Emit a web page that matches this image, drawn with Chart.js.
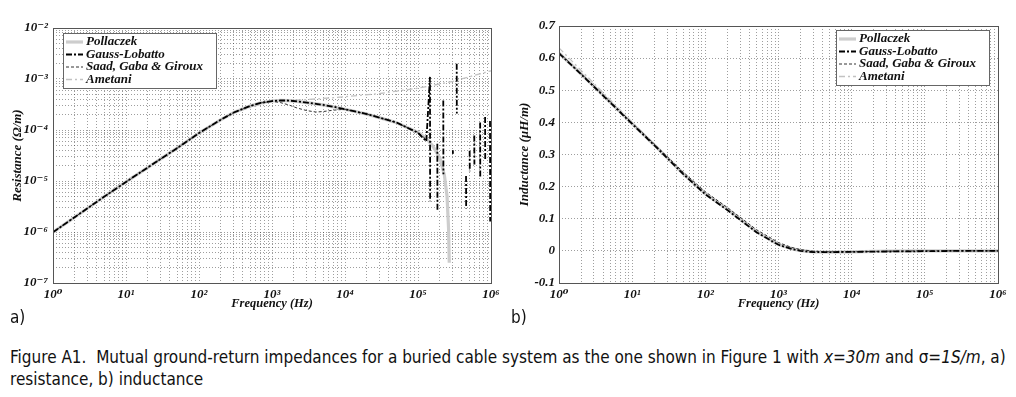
<!DOCTYPE html>
<html>
<head>
<meta charset="utf-8">
<script src="https://cdn.jsdelivr.net/npm/chart.js@4.4.1/dist/chart.umd.min.js"></script>
<style>
  body { margin: 0; background: #fff; width: 1016px; height: 397px; position: relative; overflow: hidden; }
  #wrapA { position: absolute; left: 0; top: 0; }
  #wrapB { position: absolute; left: 505px; top: 0; }
  .tag { position: absolute; top: 307px; font: 17px "DejaVu Sans Condensed", "Liberation Sans Narrow", sans-serif; color: #111; }
  #caption { position: absolute; left: 10px; top: 346px; width: 1006px; font: 17px/22px "DejaVu Sans Condensed", "Liberation Sans Narrow", sans-serif; color: #111; }
</style>
</head>
<body>
<div id="wrapA"><canvas id="resistance_chart" width="505" height="313"></canvas></div>
<div id="wrapB"><canvas id="inductance_chart" width="511" height="313"></canvas></div>
<div class="tag" style="left:10px">a)</div>
<div class="tag" style="left:511px">b)</div>
<div id="caption">Figure A1.&nbsp; Mutual ground-return impedances for a buried cable system as the one shown in Figure 1 with <i>x</i>=<i>30m</i> and σ=<i>1S/m</i>, a) resistance, b) inductance</div>
<script>
const series_names = ["Pollaczek", "Gauss-Lobatto", "Saad, Gaba & Giroux", "Ametani"];

// a) resistance (ohm/m)
const res_freq = [1, 2, 5, 10, 20, 50, 100, 200, 300, 500, 700, 1000, 1300, 1700, 2200, 3000, 4000, 5000, 7000, 10000, 20000, 50000, 100000, 130000];
const res_pollaczek = [9.9e-7, 1.97e-6, 4.9e-6, 9.6e-6, 1.85e-5, 4.4e-5, 8.7e-5, 1.6e-4, 2.2e-4, 2.95e-4, 3.4e-4, 3.7e-4, 3.8e-4, 3.78e-4, 3.65e-4, 3.45e-4, 3.25e-4, 3.1e-4, 2.85e-4, 2.55e-4, 2.05e-4, 1.4e-4, 9e-5, 6.8e-5];
const res_saad = [9.9e-7, 1.97e-6, 4.9e-6, 9.6e-6, 1.85e-5, 4.4e-5, 8.7e-5, 1.6e-4, 2.2e-4, 2.95e-4, 3.4e-4, 3.65e-4, 3.45e-4, 3.1e-4, 2.7e-4, 2.4e-4, 2.25e-4, 2.3e-4, 2.45e-4, 2.55e-4, 2.05e-4, 1.4e-4, 9e-5, 6.5e-5];
const res_gauss = [9.9e-7, 1.97e-6, 4.9e-6, 9.6e-6, 1.85e-5, 4.4e-5, 8.7e-5, 1.6e-4, 2.2e-4, 2.95e-4, 3.4e-4, 3.7e-4, 3.8e-4, 3.78e-4, 3.65e-4, 3.45e-4, 3.25e-4, 3.1e-4, 2.85e-4, 2.55e-4, 2.05e-4, 1.42e-4, 8.8e-5, 6e-5];
const res_pollaczek_tail_freq = [160000, 200000, 230000, 250000, 262000, 268000];
const res_pollaczek_tail = [4.8e-5, 2.8e-5, 1.3e-5, 5e-6, 1.2e-6, 2.5e-7];
const res_ametani_freq = [1, 10, 100, 300, 1000, 1700, 2200, 3000, 5000, 8500, 30000, 100000, 300000, 1000000];
const res_ametani = [9.9e-7, 9.6e-6, 8.7e-5, 2.2e-4, 3.7e-4, 3.8e-4, 3.85e-4, 3.95e-4, 4.15e-4, 4.4e-4, 5.2e-4, 6.6e-4, 9e-4, 1.45e-3];
// Gauss-Lobatto breaks up above ~1.4e5 Hz into vertical spikes
const res_spike_freq = [146000, 184000, 222000, 300000, 339000, 455000, 510000, 590000, 710000, 830000, 970000];
const res_spike_high = [1.1e-3, 5.4e-5, 3.8e-4, 4e-5, 2e-3, 1.26e-5, 3.9e-5, 7.8e-5, 1.4e-4, 1.8e-4, 1.5e-4];
const res_spike_low = [4e-6, 2.5e-6, 1.35e-5, 3.4e-5, 2.1e-4, 2.9e-6, 1.55e-5, 2.1e-5, 1.15e-5, 2.5e-5, 1.6e-6];

// b) inductance (uH/m)
const ind_freq = [1, 2, 5, 10, 20, 50, 100, 200, 500, 1000, 1500, 2000, 3000, 5000, 10000, 30000, 100000, 300000, 1000000];
const ind_pollaczek = [0.616, 0.551, 0.463, 0.396, 0.330, 0.240, 0.178, 0.130, 0.060, 0.020, 0.007, 0.001, -0.003, -0.004, -0.003, -0.001, 0, 0, 0];
const ind_gauss = [0.615, 0.550, 0.462, 0.395, 0.329, 0.239, 0.176, 0.127, 0.058, 0.019, 0.006, 0.000, -0.004, -0.004, -0.003, -0.002, -0.001, 0, 0];
const ind_saad = [0.617, 0.552, 0.465, 0.398, 0.333, 0.245, 0.184, 0.135, 0.066, 0.026, 0.011, 0.004, -0.001, -0.003, -0.003, -0.001, 0, 0, 0];
const ind_ametani = [0.632, 0.562, 0.470, 0.400, 0.332, 0.242, 0.180, 0.131, 0.061, 0.021, 0.008, 0.002, -0.002, -0.003, -0.002, -0.001, 0, 0, 0];

const pairs = (xs, ys) => xs.map((x, i) => ({ x: x, y: ys[i] }));

const gauss_points = pairs(res_freq, res_gauss);
res_spike_freq.forEach((f, i) => {
    gauss_points.push({ x: f, y: res_spike_high[i] });
    gauss_points.push({ x: f * 1.004, y: res_spike_low[i] });
    gauss_points.push({ x: f * 1.006, y: null });
});

const SUP = { "-": "\u207B", "0": "\u2070", "1": "\u00B9", "2": "\u00B2", "3": "\u00B3", "4": "\u2074", "5": "\u2075", "6": "\u2076", "7": "\u2077", "8": "\u2078", "9": "\u2079" };
function decade_label(value) {
    const e = Math.round(Math.log10(value));
    if (Math.abs(value - Math.pow(10, e)) > 1e-9 * value) return "";
    return "10" + String(e).split("").map(c => SUP[c]).join("");
}
function log_ticks(scale) {
    const lo = Math.round(Math.log10(scale.min));
    const hi = Math.round(Math.log10(scale.max));
    const t = [];
    for (let e = lo; e < hi; e++)
        for (let m = 1; m < 10; m++) t.push({ value: m * Math.pow(10, e) });
    t.push({ value: Math.pow(10, hi) });
    scale.ticks = t;
}

const tick_font = { family: "'Liberation Serif', 'DejaVu Serif', serif", size: 13, style: "italic", weight: "bold" };
const title_font = { family: "'Liberation Serif', 'DejaVu Serif', serif", size: 13, style: "italic", weight: "bold" };
const grid_style = { color: "rgba(0,0,0,0.38)", lineWidth: 1, drawTicks: false };

const styles = [
    { borderColor: "#cdcdcd", borderWidth: 3.2, borderDash: [], order: 4 },
    { borderColor: "#000000", borderWidth: 1.8, borderDash: [6, 2, 2, 2], order: 1 },
    { borderColor: "#333333", borderWidth: 1, borderDash: [3, 2], order: 2 },
    { borderColor: "#c2c2c2", borderWidth: 1.3, borderDash: [6, 3, 2, 3], order: 3 }
];

function make_datasets(data_lists) {
    return data_lists.map((d, i) => Object.assign({
        label: series_names[i],
        data: d,
        pointRadius: 0,
        tension: 0,
        fill: false,
        spanGaps: false
    }, styles[i]));
}

// frame round the plot and a boxed key inside it
const frame_and_key = {
    id: "frame_and_key",
    afterDatasetsDraw(chart, args, opts) {
        const ctx = chart.ctx;
        const a = chart.chartArea;
        ctx.save();
        ctx.setLineDash([]);
        ctx.strokeStyle = "#555";
        ctx.lineWidth = 1;
        ctx.strokeRect(Math.round(a.left) + 0.5, Math.round(a.top) + 0.5, Math.round(a.width), Math.round(a.height));

        const bx = opts.right ? a.right - opts.dx - opts.w : a.left + opts.dx;
        const by = a.top + opts.dy;
        ctx.fillStyle = "#fff";
        ctx.fillRect(bx, by, opts.w, opts.h);
        ctx.strokeStyle = "#666";
        ctx.strokeRect(Math.round(bx) + 0.5, Math.round(by) + 0.5, opts.w, opts.h);
        ctx.font = "italic bold 13px 'Liberation Serif', 'DejaVu Serif', serif";
        ctx.textBaseline = "middle";
        chart.data.datasets.forEach((ds, i) => {
            const y = by + 9 + i * 12.5;
            ctx.strokeStyle = ds.borderColor;
            ctx.lineWidth = ds.borderWidth;
            ctx.setLineDash(ds.borderDash);
            ctx.beginPath();
            ctx.moveTo(bx + 3, y);
            ctx.lineTo(bx + 20, y);
            ctx.stroke();
            ctx.fillStyle = "#111";
            ctx.fillText(ds.label, bx + 23, y);
        });
        ctx.restore();
    }
};

function freq_axis() {
    return {
        type: "logarithmic",
        min: 1,
        max: 1000000,
        afterBuildTicks: log_ticks,
        afterFit: s => { s.height = 28; },
        grid: grid_style,
        border: { display: false, dash: [1, 2] },
        ticks: { autoSkip: false, maxRotation: 0, padding: 4, color: "#111", font: tick_font, callback: v => decade_label(v) },
        title: { display: true, text: "Frequency (Hz)", color: "#111", font: { ...title_font, size: 12.5 }, padding: 0 }
    };
}

const resistance_chart = new Chart("resistance_chart",
{
    type: "line",
    data:
    {
        datasets: make_datasets([
            pairs(res_freq, res_pollaczek).concat(pairs(res_pollaczek_tail_freq, res_pollaczek_tail)),
            gauss_points,
            pairs(res_freq, res_saad),
            pairs(res_ametani_freq, res_ametani)
        ])
    },
    options:
    {
        responsive: false,
        animation: false,
        layout: { padding: { left: 10, top: 28, right: 14, bottom: 2 } },
        plugins:
        {
            legend: { display: false },
            tooltip: { enabled: false },
            frame_and_key: { right: false, dx: 10, dy: 5, w: 153, h: 55 }
        },
        scales:
        {
            x: freq_axis(),
            y:
            {
                type: "logarithmic",
                min: 1e-7,
                max: 1e-2,
                afterBuildTicks: log_ticks,
                afterFit: s => { s.width = 43; },
                grid: grid_style,
                border: { display: false, dash: [1, 2] },
                ticks: { autoSkip: false, padding: 5, color: "#111", font: tick_font, callback: v => decade_label(v) },
                title: { display: true, text: "Resistance (\u03A9/m)", color: "#111", font: title_font, padding: 0 }
            }
        }
    },
    plugins: [frame_and_key]
});

const inductance_chart = new Chart("inductance_chart",
{
    type: "line",
    data:
    {
        datasets: make_datasets([
            pairs(ind_freq, ind_pollaczek),
            pairs(ind_freq, ind_gauss),
            pairs(ind_freq, ind_saad),
            pairs(ind_freq, ind_ametani)
        ])
    },
    options:
    {
        responsive: false,
        animation: false,
        layout: { padding: { left: 12, top: 26, right: 18, bottom: 2 } },
        plugins:
        {
            legend: { display: false },
            tooltip: { enabled: false },
            frame_and_key: { right: true, dx: 9, dy: 4, w: 153, h: 55 }
        },
        scales:
        {
            x: freq_axis(),
            y:
            {
                type: "linear",
                min: -0.1,
                max: 0.7,
                afterFit: s => { s.width = 42; },
                grid: grid_style,
                border: { display: false, dash: [1, 2] },
                ticks: { stepSize: 0.1, padding: 4, color: "#111", font: tick_font, callback: v => (Math.abs(v) < 1e-9 ? "0" : v.toFixed(1)) },
                title: { display: true, text: "Inductance (\u03BCH/m)", color: "#111", font: title_font, padding: 0 }
            }
        }
    },
    plugins: [frame_and_key]
});
</script>
</body>
</html>
